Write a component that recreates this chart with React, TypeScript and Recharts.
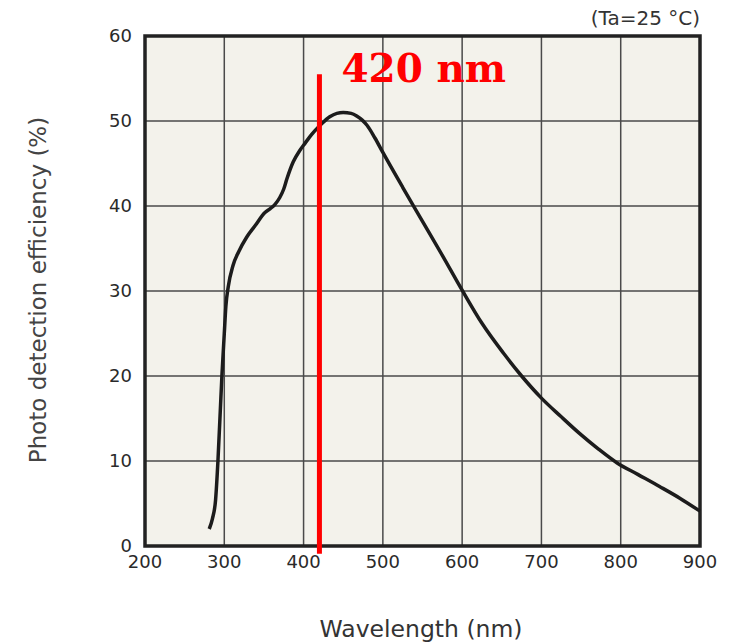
import {
  LineChart,
  Line,
  XAxis,
  YAxis,
  CartesianGrid,
  ReferenceLine,
  ReferenceArea,
  Label,
} from "recharts";

const WAVELENGTH = [
  281, 285, 289, 292, 295, 297, 300, 302, 305, 311, 318, 328, 339, 351, 358, 364,
  370, 375, 379, 387, 395, 402, 410, 421, 433, 442, 450, 460, 467, 474, 480, 490,
  500, 525, 550, 575, 600, 625, 652, 675, 700, 725, 748, 772, 795, 822, 849, 875,
  900,
];
const EFFICIENCY = [
  2.0, 3.2, 5.4, 10, 16, 20, 25, 28.2, 30.5, 33.0, 34.6, 36.3, 37.7, 39.2, 39.7,
  40.2, 41.0, 42.0, 43.2, 45.2, 46.5, 47.4, 48.4, 49.5, 50.5, 50.9, 51.0, 50.9,
  50.6, 50.1, 49.5, 48.0, 46.3, 42.2, 38.2, 34.2, 30.1, 26.2, 22.7, 20.0, 17.4,
  15.2, 13.25, 11.4, 9.8, 8.4, 7.0, 5.6, 4.1,
];
const X_TICKS = [200, 300, 400, 500, 600, 700, 800, 900];
const Y_TICKS = [0, 10, 20, 30, 40, 50, 60];
const MARK_WL = 420;

const data = WAVELENGTH.map((wl, i) => ({ wl, eff: EFFICIENCY[i] }));

const tickFont = { fontFamily: "DejaVu Sans", fontSize: 18, fill: "#2a2a2a" };

export default function App() {
  return (
    <div style={{ position: "absolute", left: 0, top: 0, background: "#fff" }}>
      <LineChart
        width={743}
        height={643}
        data={data}
        margin={{ top: 36, right: 43, bottom: 67, left: 85 }}
      >
        <CartesianGrid fill="#f3f2eb" stroke="#4a4a4a" strokeWidth={1.5} />
        <XAxis
          type="number"
          dataKey="wl"
          domain={[200, 900]}
          ticks={X_TICKS}
          interval={0}
          height={30}
          tickLine={false}
          axisLine={false}
          tick={tickFont}
          tickMargin={3}
        >
          <Label
            content={() => (
              <text
                x={421}
                y={637}
                textAnchor="middle"
                style={{ fontFamily: "DejaVu Sans", fontSize: 23.5, fill: "#333" }}
              >
                Wavelength (nm)
              </text>
            )}
          />
        </XAxis>
        <YAxis
          type="number"
          domain={[0, 60]}
          ticks={Y_TICKS}
          interval={0}
          width={60}
          tickLine={false}
          axisLine={false}
          tick={tickFont}
          tickMargin={7}
        >
          <Label
            content={() => (
              <text
                x={46}
                y={290}
                textAnchor="middle"
                transform="rotate(-90 46 290)"
                style={{ fontFamily: "DejaVu Sans", fontSize: 23, fill: "#444" }}
              >
                Photo detection efficiency (%)
              </text>
            )}
          />
        </YAxis>
        <ReferenceArea
          x1={200}
          x2={900}
          y1={0}
          y2={60}
          fill="none"
          stroke="#222"
          strokeWidth={3.5}
          label={(props: any) => {
            const vb = props.viewBox || {};
            return (
              <text
                x={vb.x + vb.width}
                y={vb.y - 11}
                textAnchor="end"
                style={{ fontFamily: "DejaVu Sans", fontSize: 20, fill: "#333" }}
              >
                (Ta=25 °C)
              </text>
            );
          }}
        />
        <Line
          type="monotone"
          dataKey="eff"
          stroke="#1c1c1c"
          strokeWidth={3.5}
          dot={false}
          isAnimationActive={false}
        />
        <ReferenceLine
          segment={[
            { x: MARK_WL, y: -0.9 },
            { x: MARK_WL, y: 55.5 },
          ]}
          ifOverflow="visible"
          stroke="#ff0000"
          strokeWidth={5}
          label={(props: any) => {
            const vb = props.viewBox || {};
            return (
              <text
                x={vb.x + 22}
                y={vb.y + 8}
                textAnchor="start"
                style={{
                  fontFamily: "DejaVu Serif",
                  fontWeight: 700,
                  fontSize: 39,
                  fill: "#ff0000",
                }}
              >
                {MARK_WL} nm
              </text>
            );
          }}
        />
      </LineChart>
    </div>
  );
}
